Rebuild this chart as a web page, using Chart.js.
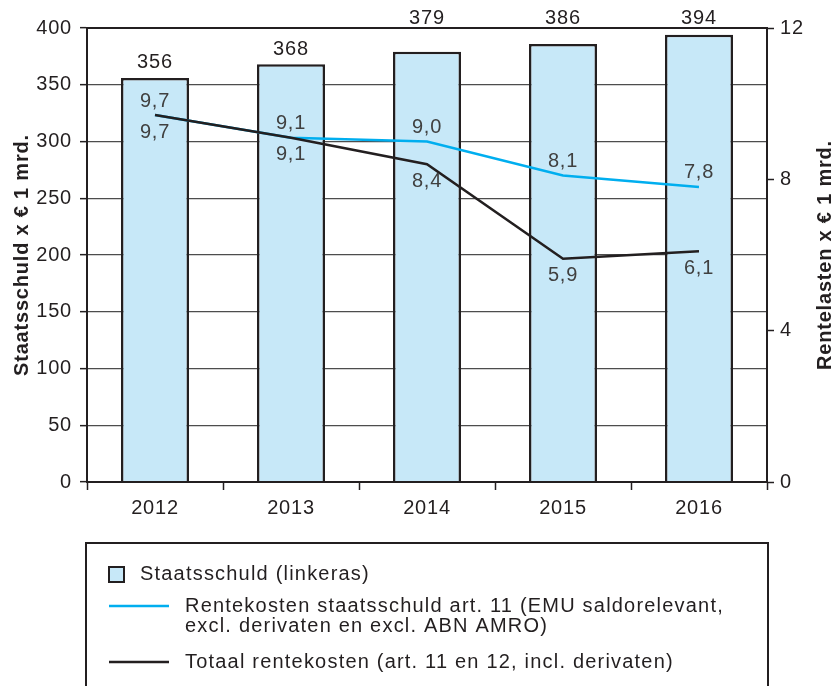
<!DOCTYPE html>
<html>
<head>
<meta charset="utf-8">
<script src="https://cdn.jsdelivr.net/npm/chart.js@4/dist/chart.umd.min.js"></script>
<style>
  html, body { margin: 0; padding: 0; background: #fff; }
  canvas { display: block; }
</style>
</head>
<body>
<canvas id="chart" width="837" height="686"></canvas>
<script>
// data
const years = ['2012', '2013', '2014', '2015', '2016'];
const staatsschuld = [356, 368, 379, 386, 394];
const rentekostenArt11 = [9.7, 9.1, 9.0, 8.1, 7.8];
const totaalRentekosten = [9.7, 9.1, 8.4, 5.9, 6.1];
const leftAxis = { min: 0, max: 400, step: 50 };
const rightAxis = { min: 0, max: 12, step: 4 };
const legendLabels = [
    'Staatsschuld (linkeras)',
    'Rentekosten staatsschuld art. 11 (EMU saldorelevant,\nexcl. derivaten en excl. ABN AMRO)',
    'Totaal rentekosten (art. 11 en 12, incl. derivaten)'
];
// data

const FONT = '"Liberation Sans", Arial, sans-serif';
const INK = '#231f20';
const BAR_FILL = '#c7e8f8';
const BLUE = '#00aeef';

const comma = v => v.toFixed(1).replace('.', ',');

// letter spacing for all canvas text
const spacing = {
    id: 'spacing',
    beforeInit(chart) { chart.ctx.letterSpacing = '0.8px'; },
    beforeUpdate(chart) { chart.ctx.letterSpacing = '0.8px'; },
    beforeDraw(chart) { chart.ctx.letterSpacing = '0.8px'; }
};

// frame, value labels, axis titles, legend
const extras = {
    id: 'extras',
    afterDatasetsDraw(chart) {
        const ctx = chart.ctx;
        const a = chart.chartArea;
        ctx.save();
        ctx.strokeStyle = INK;
        ctx.lineWidth = 2;
        ctx.strokeRect(a.left, a.top, a.right - a.left, a.bottom - a.top);

        ctx.font = `20px ${FONT}`;
        ctx.textAlign = 'center';
        ctx.textBaseline = 'middle';

        // bar values
        ctx.fillStyle = INK;
        chart.getDatasetMeta(0).data.forEach((bar, i) => {
            let y = bar.y - 15;
            if (y - 10 < a.top + 4) y = a.top - 10;
            ctx.fillText(String(staatsschuld[i]), bar.x, y);
        });

        // line values
        ctx.fillStyle = '#404040';
        chart.getDatasetMeta(1).data.forEach((pt, i) => {
            ctx.fillText(comma(rentekostenArt11[i]), pt.x, pt.y - 14);
        });
        chart.getDatasetMeta(2).data.forEach((pt, i) => {
            ctx.fillText(comma(totaalRentekosten[i]), pt.x, pt.y + 17);
        });
        ctx.restore();
    },
    afterDraw(chart) {
        const ctx = chart.ctx;
        const a = chart.chartArea;
        const midY = (a.top + a.bottom) / 2;
        ctx.save();
        ctx.letterSpacing = '0.8px';
        ctx.fillStyle = INK;
        ctx.textAlign = 'center';
        ctx.textBaseline = 'middle';
        ctx.font = `bold 20px ${FONT}`;

        // axis titles, both read bottom to top
        [[22, 'Staatsschuld x € 1 mrd.'], [825, 'Rentelasten x € 1 mrd.']].forEach(([x, t]) => {
            ctx.save();
            ctx.translate(x, midY);
            ctx.rotate(-Math.PI / 2);
            ctx.fillText(t, 0, 0);
            ctx.restore();
        });

        // legend box
        const left = a.left - 1, right = a.right + 1, top = a.bottom + 61;
        ctx.strokeStyle = INK;
        ctx.lineWidth = 2;
        ctx.strokeRect(left, top, right - left, 300);

        ctx.font = `20px ${FONT}`;
        ctx.letterSpacing = '1.2px';
        ctx.textAlign = 'left';

        // bar item
        ctx.fillStyle = BAR_FILL;
        ctx.fillRect(left + 23, top + 24, 15, 15);
        ctx.strokeRect(left + 23, top + 24, 15, 15);
        ctx.fillStyle = INK;
        ctx.fillText(legendLabels[0], left + 54, top + 31);

        // line items
        const lineItem = (color, y, label) => {
            ctx.strokeStyle = color;
            ctx.lineWidth = 2.5;
            ctx.beginPath();
            ctx.moveTo(left + 23, y);
            ctx.lineTo(left + 83, y);
            ctx.stroke();
            ctx.fillStyle = INK;
            label.split('\n').forEach((line, k) => {
                ctx.fillText(line, left + 99, y + k * 20);
            });
        };
        lineItem(BLUE, top + 63, legendLabels[1]);
        lineItem(INK, top + 119, legendLabels[2]);
        ctx.restore();
    }
};

new Chart(document.getElementById('chart'), {
    data: {
        labels: years,
        datasets: [{
            type: 'bar',
            label: legendLabels[0],
            data: staatsschuld,
            yAxisID: 'y',
            backgroundColor: BAR_FILL,
            borderColor: INK,
            borderWidth: 2.5,
            barPercentage: 0.5,
            categoryPercentage: 1,
            order: 3
        }, {
            type: 'line',
            label: legendLabels[1],
            data: rentekostenArt11,
            yAxisID: 'y2',
            borderColor: BLUE,
            borderWidth: 2.5,
            pointRadius: 0,
            tension: 0,
            order: 2
        }, {
            type: 'line',
            label: legendLabels[2],
            data: totaalRentekosten,
            yAxisID: 'y2',
            borderColor: INK,
            borderWidth: 2.5,
            pointRadius: 0,
            tension: 0,
            order: 1
        }]
    },
    options: {
        responsive: false,
        devicePixelRatio: 1,
        animation: false,
        layout: { padding: { top: 28, left: 0, right: 0, bottom: 0 } },
        plugins: {
            legend: { display: false },
            tooltip: { enabled: false }
        },
        scales: {
            x: {
                afterFit(s) { s.height = 204; },
                grid: { offset: true, drawOnChartArea: false, tickLength: 8, tickColor: INK, tickWidth: 1.5 },
                border: { color: INK, width: 2 },
                ticks: { color: INK, font: { family: FONT, size: 20 }, padding: 6 }
            },
            y: {
                position: 'left',
                min: leftAxis.min,
                max: leftAxis.max,
                afterFit(s) { s.width = 87; },
                grid: { color: '#4d4d4d', lineWidth: 1.3, tickLength: 7, tickColor: INK, tickWidth: 1.5 },
                border: { color: INK, width: 2 },
                ticks: { stepSize: leftAxis.step, color: INK, font: { family: FONT, size: 20 }, padding: 8 }
            },
            y2: {
                position: 'right',
                min: rightAxis.min,
                max: rightAxis.max,
                afterFit(s) { s.width = 70; },
                grid: { drawOnChartArea: false, tickLength: 7, tickColor: INK, tickWidth: 1.5 },
                border: { color: INK, width: 2 },
                ticks: { stepSize: rightAxis.step, color: INK, font: { family: FONT, size: 20 }, padding: 6 }
            }
        }
    },
    plugins: [spacing, extras]
});
</script>
</body>
</html>
